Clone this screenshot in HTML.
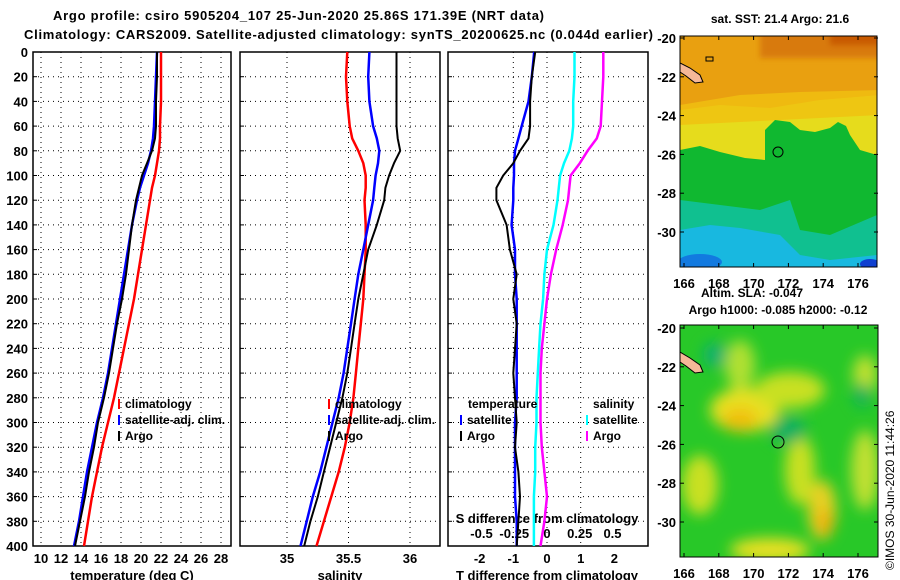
<!DOCTYPE html>
<html><head><meta charset="utf-8">
<style>
html,body{margin:0;padding:0;background:#fff;}
svg{display:block;font-family:"Liberation Sans",Arial,sans-serif;font-weight:bold;}
</style></head>
<body>
<svg id="fig" width="900" height="580" viewBox="0 0 900 580" xmlns="http://www.w3.org/2000/svg">
<defs>
<filter id="blur6" x="-50%" y="-50%" width="200%" height="200%"><feGaussianBlur stdDeviation="7"/></filter>
<filter id="blur3" x="-50%" y="-50%" width="200%" height="200%"><feGaussianBlur stdDeviation="3"/></filter>
<clipPath id="clipTop"><rect x="680" y="36" width="197" height="231"/></clipPath>
<clipPath id="clipBot"><rect x="680" y="325" width="198" height="232"/></clipPath>
</defs>
<text x="53" y="20" font-size="13" textLength="491">Argo profile: csiro 5905204_107 25-Jun-2020 25.86S 171.39E (NRT data)</text>
<text x="24" y="39" font-size="13" textLength="629">Climatology: CARS2009. Satellite-adjusted climatology: synTS_20200625.nc (0.044d earlier)</text>

<!-- top map -->
<g>
<g clip-path="url(#clipTop)">
<rect x="680" y="36" width="197" height="231" fill="#e9a010"/>
<rect x="760" y="30" width="130" height="28" fill="#d87a08" filter="url(#blur3)"/>
<rect x="830" y="30" width="60" height="15" fill="#c85a04" filter="url(#blur3)"/>
<polygon points="680,110 720,105 770,108 820,100 880,95 880,200 680,200" fill="#e6dc1c"/>
<polygon points="680,105 740,95 800,92 880,90 880,115 680,125" fill="#f0c010" opacity="0.8"/>
<polygon points="680,150 700,146 720,152 745,158 765,160 765,130 775,120 790,122 800,130 815,132 830,128 838,122 846,126 850,135 860,150 877,155 877,267 680,267" fill="#10b830"/>
<polygon points="680,200 720,205 760,210 790,200 800,230 830,235 877,215 877,267 680,267" fill="#10c090"/>
<polygon points="680,230 710,225 740,228 780,235 800,255 830,260 877,255 877,267 680,267" fill="#18b8e0"/>
<ellipse cx="700" cy="262" rx="22" ry="8" fill="#1060e0" opacity="0.7"/>
<ellipse cx="870" cy="264" rx="10" ry="5" fill="#1040d0"/>
<polygon points="680,63 690,68 700,75 703,82 695,83 686,76 680,72" fill="#f5b898" stroke="#000" stroke-width="1"/>
<rect x="706" y="57" width="7" height="4" fill="none" stroke="#000"/>
</g>
<rect x="680" y="36" width="197" height="231" fill="none" stroke="#000" stroke-width="1"/>
<circle cx="778" cy="152" r="5" fill="none" stroke="#000" stroke-width="1"/>
</g>
<text x="780" y="23" font-size="12" text-anchor="middle">sat. SST: 21.4 Argo: 21.6</text>
<text x="752" y="297" font-size="12" text-anchor="middle">Altim. SLA: -0.047</text>
<text x="778" y="314" font-size="12" text-anchor="middle">Argo h1000: -0.085 h2000: -0.12</text>

<!-- bottom map -->
<g>
<g clip-path="url(#clipBot)">
<rect x="680" y="325" width="198" height="232" fill="#28c828"/>
<g filter="url(#blur6)">
<ellipse cx="745" cy="410" rx="35" ry="22" fill="#e8e020"/>
<ellipse cx="740" cy="420" rx="18" ry="12" fill="#f0c010"/>
<ellipse cx="790" cy="390" rx="35" ry="18" fill="#c8e020"/>
<ellipse cx="740" cy="365" rx="15" ry="25" fill="#b0e030"/>
<ellipse cx="800" cy="470" rx="15" ry="35" fill="#c8e020"/>
<ellipse cx="822" cy="510" rx="14" ry="30" fill="#e8d020"/>
<ellipse cx="825" cy="523" rx="8" ry="14" fill="#f0b010"/>
<ellipse cx="700" cy="485" rx="18" ry="30" fill="#c8e020"/>
<ellipse cx="770" cy="550" rx="40" ry="12" fill="#e8e020"/>
<ellipse cx="865" cy="470" rx="14" ry="40" fill="#c0e030"/>
<ellipse cx="865" cy="375" rx="12" ry="20" fill="#c0e030"/>
<ellipse cx="715" cy="355" rx="12" ry="12" fill="#10b070"/>
<ellipse cx="788" cy="430" rx="18" ry="14" fill="#10b060"/>
<ellipse cx="862" cy="395" rx="8" ry="12" fill="#10b060"/>
</g>
<polygon points="680,352 690,358 700,365 703,372 695,373 686,366 680,362" fill="#f5b898" stroke="#000" stroke-width="1"/>
</g>
<rect x="680" y="325" width="198" height="232" fill="none" stroke="#000" stroke-width="1"/>
<circle cx="778" cy="442" r="6" fill="none" stroke="#000" stroke-width="1"/>
</g>
<text transform="translate(894,570) rotate(-90)" font-size="12" font-weight="normal">©IMOS 30-Jun-2020 11:44:26</text>

<g id="plots"></g>
</svg>
<script>
const depths = [0,20,40,60,70,80,90,100,110,120,140,160,180,200,220,240,260,280,300,320,340,360,380,400];
const tempClim = [22.0,22.0,22.0,21.9,21.9,21.8,21.6,21.4,21.1,20.9,20.5,20.1,19.7,19.3,18.8,18.3,17.8,17.3,16.7,16.1,15.6,15.1,14.7,14.3];
const tempSat = [21.6,21.5,21.4,21.3,21.2,21.0,20.7,20.3,19.9,19.6,19.1,18.7,18.3,17.9,17.5,17.1,16.7,16.2,15.6,15.1,14.6,14.2,13.8,13.3];
const tempArgo = [21.6,21.6,21.5,21.5,21.4,21.1,20.6,20.1,19.8,19.5,19.1,18.8,18.5,18.1,17.6,17.2,16.8,16.3,15.7,15.3,14.8,14.4,13.9,13.4];
const salClim = [35.49,35.48,35.49,35.51,35.53,35.58,35.62,35.64,35.64,35.63,35.64,35.64,35.63,35.62,35.60,35.58,35.56,35.54,35.51,35.47,35.42,35.36,35.30,35.24];
const salSat = [35.67,35.66,35.67,35.70,35.73,35.75,35.74,35.72,35.71,35.70,35.66,35.62,35.58,35.55,35.52,35.49,35.46,35.42,35.37,35.32,35.27,35.21,35.16,35.11];
const salArgo = [35.89,35.89,35.89,35.89,35.90,35.92,35.87,35.83,35.80,35.79,35.73,35.66,35.62,35.58,35.55,35.52,35.49,35.45,35.40,35.35,35.30,35.25,35.19,35.14];
const tDiffSat = [-0.38,-0.45,-0.55,-0.75,-0.85,-0.95,-0.98,-0.98,-1.0,-1.0,-1.05,-0.95,-0.95,-0.9,-0.9,-0.9,-0.9,-0.9,-0.95,-0.95,-0.95,-0.95,-0.9,-0.9];
const tDiffArgo = [-0.35,-0.45,-0.5,-0.5,-0.55,-0.8,-1.0,-1.3,-1.5,-1.5,-1.2,-1.1,-0.9,-1.0,-0.9,-0.95,-1.0,-0.95,-0.9,-0.95,-0.85,-0.8,-0.85,-0.9];
const sDiffSat = [0.21,0.21,0.2,0.2,0.19,0.17,0.13,0.10,0.09,0.08,0.05,0.0,-0.02,-0.03,-0.05,-0.06,-0.07,-0.08,-0.08,-0.09,-0.09,-0.10,-0.10,-0.10];
const sDiffArgo = [0.43,0.43,0.42,0.41,0.38,0.31,0.25,0.18,0.17,0.16,0.12,0.07,0.03,0.0,-0.02,-0.04,-0.05,-0.05,-0.05,-0.04,-0.02,0.0,-0.02,-0.05];
const depthTicks = [0,20,40,60,80,100,120,140,160,180,200,220,240,260,280,300,320,340,360,380,400];
const tempTicks = [10,12,14,16,18,20,22,24,26,28];
const salTicks = [35,35.5,36];
const tDiffTicks = [-2,-1,0,1,2];
const sDiffTicks = [-0.5,-0.25,0,0.25,0.5];
const mapLonTicks = [166,168,170,172,174,176];
const mapLatTicks = [-20,-22,-24,-26,-28,-30];

const NS='http://www.w3.org/2000/svg';
const root=document.getElementById('plots');
function mk(tag,attrs,parent){const e=document.createElementNS(NS,tag);for(const k in attrs)e.setAttribute(k,attrs[k]);(parent||root).appendChild(e);return e;}
const yTop=52, yBot=546;
const yScale=d=>yTop+d*(yBot-yTop)/400;
const xTemp=v=>41+(v-10)*10;
const xSal=v=>287+(v-35)*123;
const xTD=v=>547+v*33.7;
const xSD=v=>547+v*131;
const panels=[[33,231],[240,440],[448,648]];

// grid + frames
panels.forEach((p,i)=>{
  const g=mk('g',{});
  
  
  depthTicks.forEach(d=>{
    const y=yScale(d);
    if(d>0&&d<400){const l=mk('line',{x1:p[0],x2:p[1],y1:y,y2:y,stroke:'#000','stroke-width':1,'stroke-dasharray':'1,4'},g);
      
      }
    mk('line',{x1:p[0],x2:p[0]+4,y1:y,y2:y,stroke:'#000'},g);
  });
  const vt = i===0?tempTicks.map(xTemp):i===1?salTicks.map(xSal):[-1,0,1].map(xTD);
  vt.forEach(x=>{const l=mk('line',{x1:x,x2:x,y1:yTop,y2:yBot,stroke:'#000','stroke-width':1,'stroke-dasharray':'1,4'},g);
    
    });
  const r=mk('rect',{x:p[0],y:yTop,width:p[1]-p[0],height:yBot-yTop,fill:'none',stroke:'#000','stroke-width':1.5},g);
  
  
});
depthTicks.forEach(d=>{
  const t=mk('text',{x:28,y:yScale(d)+5,'font-size':13,'text-anchor':'end'});
  t.textContent=d;
  
  
});
function tickLabels(ticks,fx,y,fmt){ticks.forEach(v=>{const t=mk('text',{x:fx(v),y:y,'font-size':13,'text-anchor':'middle'});t.textContent=fmt?fmt(v):v;
  
  });}
tickLabels(tempTics=tempTicks,xTemp,563);
tickLabels(salTicks,xSal,563);
tickLabels(tDiffTicks,xTD,563);
tickLabels(sDiffTicks,xSD,538,v=>v===0?'0':String(v));
function label(txt,x,y,name,anchor,size){const t=mk('text',{x:x,y:y,'font-size':size||13,'text-anchor':anchor||'middle'});t.textContent=txt;
  
  return t;}
label('temperature (deg C)',132,580,'x-axis-title-temperature');
label('salinity',340,580,'x-axis-title-salinity');
label('T difference from climatology',547,580,'x-axis-title-t-diff');
label('S difference from climatology',547,523,'x-axis-title-s-diff');

function line(vals,fx,color,name,w){
  const pts=vals.map((v,i)=>fx(v).toFixed(1)+','+yScale(depths[i]).toFixed(1)).join(' ');
  const pl=mk('polyline',{points:pts,fill:'none',stroke:color,'stroke-width':w||2.5,'stroke-linejoin':'round'});
  
  
}
line(tempClim,xTemp,'#ff0000','temp-climatology-line');
line(tempSat,xTemp,'#0000ff','temp-satellite-line');
line(tempArgo,xTemp,'#000','temp-argo-line',2);
line(salClim,xSal,'#ff0000','sal-climatology-line');
line(salSat,xSal,'#0000ff','sal-satellite-line');
line(salArgo,xSal,'#000','sal-argo-line',2);
line(tDiffSat,xTD,'#0000ff','tdiff-satellite-line');
line(tDiffArgo,xTD,'#000','tdiff-argo-line',2);
line(sDiffSat,xSD,'#00ffff','sdiff-satellite-line');
line(sDiffArgo,xSD,'#ff00ff','sdiff-argo-line');

function legend(x,y,color,txt){
  const m=mk('line',{x1:x,x2:x,y1:y-9,y2:y+1,stroke:color,'stroke-width':2});
  
  
  label(txt,x+6,y,'legend-entry','start',12);
}
legend(119,408,'#ff0000','climatology');
legend(119,424,'#0000ff','satellite-adj. clim.');
legend(119,440,'#000','Argo');
legend(329,408,'#ff0000','climatology');
legend(329,424,'#0000ff','satellite-adj. clim.');
legend(329,440,'#000','Argo');
label('temperature',468,408,'legend-title-temperature','start',12);
legend(461,424,'#0000ff','satellite');
legend(461,440,'#000','Argo');
label('salinity',593,408,'legend-title-salinity','start',12);
legend(587,424,'#00ffff','satellite');
legend(587,440,'#ff00ff','Argo');

// map axes
function mapAxes(top,bottom,lat20,lonY){
  const lonX=v=>684+(v-166)*17.4;
  const latY=v=>lat20+(-20-v)*19.4;
  mapLonTicks.forEach(v=>{
    const x=lonX(v);
    mk('line',{x1:x,x2:x,y1:top,y2:top+4,stroke:'#000'});
    mk('line',{x1:x,x2:x,y1:bottom,y2:bottom-4,stroke:'#000'});
    const t=mk('text',{x:x,y:lonY,'font-size':13,'text-anchor':'middle'});
    t.textContent=v;
    
    
  });
  mapLatTicks.forEach(v=>{
    const y=latY(v);
    mk('line',{x1:680,x2:684,y1:y,y2:y,stroke:'#000'});
    mk('line',{x1:874,x2:878,y1:y,y2:y,stroke:'#000'});
    const t=mk('text',{x:676,y:y+5,'font-size':13,'text-anchor':'end'});
    t.textContent=v;
    
    
  });
}
mapAxes(36,267,38,288);
mapAxes(325,557,328,578);
</script>
</body></html>
